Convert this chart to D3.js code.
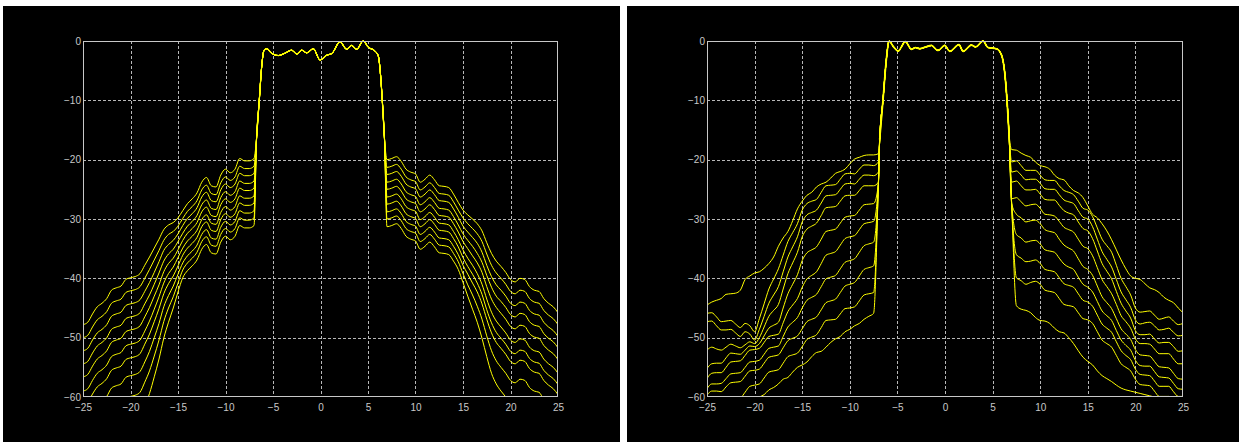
<!DOCTYPE html>
<html><head><meta charset="utf-8">
<script src="https://cdn.jsdelivr.net/npm/d3@7"></script>
<style>html,body{margin:0;padding:0;background:#fff;overflow:hidden}</style>
</head><body>
<svg id="c" width="1239" height="442"></svg>
<script>
// ---------- tick labels ----------
const xTicks = [-25,-20,-15,-10,-5,0,5,10,15,20,25];
const yTicks = [-60,-50,-40,-30,-20,-10,0];

// ---------- shared sideband frequency grids ----------
const sideLX = [-25,-24.5,-24,-23.5,-23,-22.5,-22,-21.5,-21,-20.5,-20,-19.5,-19,-18.5,-18,-17.5,-17,-16.5,-16,-15.5,-15,-14.5,-14,-13.5,-13,-12.5,-12,-11.5,-11,-10.5,-10,-9.5,-9,-8.5,-8,-7.5,-7];
const sideRX = [7,7.5,8,8.5,9,9.5,10,10.5,11,11.5,12,12.5,13,13.5,14,14.5,15,15.5,16,16.5,17,17.5,18,18.5,19,19.5,20,20.5,21,21.5,22,22.5,23,23.5,24,24.5,25];

// ---------- panel 1 (left) ----------
const p1PassX = [-6.72,-6.44,-6.19,-5.95,-5.66,-5.2,-4.44,-3.8,-3.03,-2.5,-1.98,-1.45,-0.75,-0.05,0.65,1.2,2.05,2.76,3.28,3.8,4.5,5.03,5.74,6.08,6.33,6.5,6.72];
const p1PassY = [-16.1,-9.9,-4.3,-1.6,-1.3,-2.0,-2.45,-2.1,-1.55,-2.2,-1.55,-2.0,-1.3,-3.2,-2.4,-2.1,-0.15,-1.4,-0.75,-1.4,0,-1.05,-1.7,-2.5,-5.9,-9.9,-16.0];
const p1Left = [
[-47.8,-47.4,-46.0,-44.8,-44.2,-43.4,-42.0,-41.6,-41.3,-40.2,-39.9,-39.7,-39.2,-37.8,-36.4,-34.9,-33.4,-31.8,-31.0,-30.6,-29.8,-28.6,-27.4,-26.6,-25.6,-23.8,-23.0,-24.4,-24.6,-22.6,-21.6,-22.2,-21.6,-19.8,-20.2,-20.2,-19.8],
[-50.0,-49.6,-48.2,-47.0,-46.4,-45.6,-44.2,-43.8,-43.5,-42.4,-42.1,-41.9,-41.4,-40.0,-38.5,-36.9,-35.3,-33.6,-32.6,-32.1,-31.2,-29.9,-28.7,-27.9,-26.9,-25.1,-24.3,-25.7,-25.9,-23.9,-22.9,-23.5,-22.9,-21.1,-21.5,-21.5,-21.1],
[-52.2,-51.8,-50.4,-49.2,-48.6,-47.8,-46.4,-46.0,-45.7,-44.6,-44.3,-44.1,-43.6,-42.2,-40.7,-39.0,-37.2,-35.3,-34.3,-33.6,-32.5,-31.1,-29.9,-29.1,-28.1,-26.3,-25.5,-26.9,-27.1,-25.1,-24.1,-24.7,-24.1,-22.3,-22.7,-22.7,-22.3],
[-54.4,-54.0,-52.6,-51.4,-50.8,-50.0,-48.6,-48.2,-47.9,-46.8,-46.5,-46.3,-45.8,-44.3,-42.8,-41.0,-39.1,-37.1,-35.9,-35.1,-33.8,-32.4,-31.2,-30.4,-29.4,-27.6,-26.8,-28.2,-28.4,-26.4,-25.4,-26.0,-25.4,-23.6,-24.0,-24.0,-23.6],
[-56.6,-56.2,-54.8,-53.6,-53.0,-52.2,-50.8,-50.4,-50.1,-49.0,-48.7,-48.5,-48.0,-46.5,-44.9,-43.0,-41.1,-38.9,-37.5,-36.6,-35.2,-33.6,-32.4,-31.6,-30.6,-28.8,-28.0,-29.4,-29.6,-27.6,-26.6,-27.2,-26.6,-24.8,-25.2,-25.2,-24.8],
[-59.0,-58.6,-57.2,-56.0,-55.4,-54.6,-53.2,-52.8,-52.5,-51.4,-51.1,-50.9,-50.4,-48.9,-47.2,-45.2,-43.1,-40.8,-39.2,-38.1,-36.5,-34.9,-33.7,-32.9,-31.9,-30.1,-29.3,-30.7,-30.9,-28.9,-27.9,-28.5,-27.9,-26.1,-26.5,-26.5,-26.1],
[-61.3,-60.9,-59.5,-58.3,-57.7,-56.9,-55.5,-55.1,-54.8,-53.7,-53.4,-53.2,-52.7,-51.1,-49.4,-47.3,-45.1,-42.6,-40.9,-39.6,-37.9,-36.1,-34.9,-34.1,-33.1,-31.3,-30.5,-31.9,-32.1,-30.1,-29.1,-29.7,-29.1,-27.3,-27.7,-27.7,-27.3],
[-64.3,-63.9,-62.5,-61.3,-60.7,-59.9,-58.5,-58.1,-57.8,-56.7,-56.4,-56.2,-55.7,-54.1,-52.3,-50.0,-47.6,-44.8,-42.9,-41.3,-39.3,-37.4,-36.2,-35.4,-34.4,-32.6,-31.8,-33.2,-33.4,-31.4,-30.4,-31.0,-30.4,-28.6,-29.0,-29.0,-28.6],
[-67.8,-67.4,-66.0,-64.8,-64.2,-63.4,-62.0,-61.6,-61.3,-60.2,-59.9,-59.7,-59.2,-57.5,-55.6,-53.1,-50.4,-47.3,-45.0,-43.1,-40.8,-38.6,-37.4,-36.6,-35.6,-33.8,-33.0,-34.4,-34.6,-32.6,-31.6,-32.2,-31.6,-29.8,-30.2,-30.2,-29.8],
[-71.8,-71.4,-70.0,-68.8,-68.2,-67.4,-66.0,-65.6,-65.3,-64.2,-63.9,-63.7,-63.2,-61.4,-59.4,-56.6,-53.6,-50.1,-47.4,-45.0,-42.3,-39.9,-38.7,-37.9,-36.9,-35.1,-34.3,-35.7,-35.9,-33.9,-32.9,-33.5,-32.9,-31.1,-31.5,-31.5,-31.1]
];
const p1Right = [
[-20.0,-19.8,-19.5,-20.3,-21.6,-22.1,-22.4,-23.8,-23.3,-22.6,-23.4,-24.4,-24.5,-24.7,-25.8,-27.2,-28.5,-29.3,-30.0,-30.8,-32.0,-34.0,-35.8,-37.1,-38.0,-39.0,-40.2,-40.6,-40.0,-40.2,-41.4,-42.0,-42.2,-43.4,-44.2,-44.8,-45.8],
[-21.3,-21.1,-20.8,-21.6,-22.9,-23.4,-23.7,-25.1,-24.6,-23.9,-24.7,-25.7,-25.8,-26.0,-27.1,-28.5,-29.8,-30.8,-31.6,-32.5,-33.8,-35.9,-37.8,-39.1,-40.0,-41.0,-42.2,-42.6,-42.0,-42.2,-43.4,-44.0,-44.2,-45.4,-46.2,-46.8,-47.8],
[-22.5,-22.3,-22.0,-22.8,-24.1,-24.6,-24.9,-26.3,-25.8,-25.1,-25.9,-26.9,-27.0,-27.2,-28.3,-29.7,-31.2,-32.2,-33.1,-34.1,-35.6,-37.8,-39.7,-41.1,-42.0,-43.0,-44.2,-44.6,-44.0,-44.2,-45.4,-46.0,-46.2,-47.4,-48.2,-48.8,-49.8],
[-23.8,-23.6,-23.3,-24.1,-25.4,-25.9,-26.2,-27.6,-27.1,-26.4,-27.2,-28.2,-28.3,-28.5,-29.6,-31.0,-32.5,-33.6,-34.6,-35.8,-37.3,-39.5,-41.5,-43.0,-43.9,-44.9,-46.1,-46.5,-45.9,-46.1,-47.3,-47.9,-48.1,-49.3,-50.1,-50.7,-51.7],
[-25.0,-24.8,-24.5,-25.3,-26.6,-27.1,-27.4,-28.8,-28.3,-27.6,-28.4,-29.4,-29.5,-29.7,-30.8,-32.2,-33.8,-35.0,-36.2,-37.4,-39.0,-41.4,-43.5,-44.9,-45.9,-46.9,-48.1,-48.5,-47.9,-48.1,-49.3,-49.9,-50.1,-51.3,-52.1,-52.7,-53.7],
[-26.3,-26.1,-25.8,-26.6,-27.9,-28.4,-28.7,-30.1,-29.6,-28.9,-29.7,-30.7,-30.8,-31.0,-32.1,-33.5,-35.2,-36.6,-37.8,-39.2,-41.0,-43.5,-45.7,-47.2,-48.2,-49.2,-50.4,-50.8,-50.2,-50.4,-51.6,-52.2,-52.4,-53.6,-54.4,-55.0,-56.0],
[-27.5,-27.3,-27.0,-27.8,-29.1,-29.6,-29.9,-31.3,-30.8,-30.1,-30.9,-31.9,-32.0,-32.2,-33.3,-34.7,-36.5,-38.0,-39.3,-40.8,-42.7,-45.3,-47.5,-49.1,-50.1,-51.1,-52.3,-52.7,-52.1,-52.3,-53.5,-54.1,-54.3,-55.5,-56.3,-56.9,-57.9],
[-28.8,-28.6,-28.3,-29.1,-30.4,-30.9,-31.2,-32.6,-32.1,-31.4,-32.2,-33.2,-33.3,-33.5,-34.6,-36.0,-37.8,-39.3,-40.8,-42.3,-44.3,-46.9,-49.2,-50.8,-51.8,-52.8,-54.0,-54.4,-53.8,-54.0,-55.2,-55.8,-56.0,-57.2,-58.0,-58.6,-59.6],
[-30.0,-29.8,-29.5,-30.3,-31.6,-32.1,-32.4,-33.8,-33.3,-32.6,-33.4,-34.4,-34.5,-34.7,-35.8,-37.2,-39.2,-41.1,-42.8,-44.7,-46.9,-49.7,-52.2,-53.9,-55.0,-56.0,-57.2,-57.6,-57.0,-57.2,-58.4,-59.0,-59.2,-60.4,-61.2,-61.8,-62.8],
[-31.3,-31.1,-30.8,-31.6,-32.9,-33.4,-33.7,-35.1,-34.6,-33.9,-34.7,-35.7,-35.8,-36.0,-37.1,-38.5,-40.7,-43.0,-45.2,-47.4,-50.1,-53.2,-56.0,-57.8,-59.0,-60.0,-61.2,-61.6,-61.0,-61.2,-62.4,-63.0,-63.2,-64.4,-65.2,-65.8,-66.8]
];

// ---------- panel 2 (right) ----------
const p2PassX = [-6.86,-6.51,-6.16,-5.88,-5.4,-4.94,-4.16,-3.53,-3.1,-2.66,-2.0,-1.43,-0.74,-0.03,0.5,1.47,1.9,2.77,3.22,3.99,4.52,5.4,5.92,6.27,6.51,6.72];
const p2PassY = [-16.6,-9.9,-3.1,0,-1.0,-1.7,-0.1,-1.4,-1.1,-1.3,-1.0,-0.75,-1.6,-0.75,-1.75,-0.6,-1.75,-0.7,-1.0,0,-1.1,-1.3,-2.3,-5.3,-9.9,-15.5];
const p2Left = [
[-44.5,-44.0,-43.7,-43.4,-42.7,-42.6,-42.5,-42.0,-40.2,-39.6,-39.1,-38.9,-38.3,-37.5,-36.4,-34.6,-33.2,-32.1,-30.3,-28.3,-27.0,-26.0,-25.5,-24.6,-24.1,-23.8,-23.1,-22.3,-22.0,-21.6,-20.7,-19.9,-19.6,-19.3,-19.2,-19.2,-19.0],
[-45.9,-45.8,-46.5,-47.3,-47.2,-47.1,-47.7,-48.3,-47.6,-48.0,-49.0,-46.8,-44.3,-41.8,-40.1,-38.4,-36.1,-33.8,-32.3,-30.8,-28.5,-27.4,-27.0,-26.7,-25.5,-24.4,-24.3,-24.2,-23.3,-22.4,-22.3,-22.4,-21.6,-20.9,-20.9,-21.0,-20.4],
[-47.3,-47.2,-48.0,-48.7,-48.7,-48.6,-49.2,-49.8,-49.0,-49.4,-50.4,-48.6,-46.4,-44.2,-42.8,-41.4,-38.9,-36.4,-34.7,-33.0,-30.5,-29.3,-28.9,-28.5,-27.3,-26.1,-26.0,-25.9,-25.0,-24.1,-24.0,-24.1,-23.3,-22.6,-22.6,-22.7,-22.1],
[-52.1,-51.6,-51.9,-52.1,-51.6,-51.1,-51.4,-51.7,-51.2,-50.7,-51.0,-50.0,-48.2,-46.4,-45.4,-44.4,-41.8,-39.2,-37.4,-35.6,-33.0,-31.7,-31.2,-30.7,-29.4,-28.1,-28.0,-27.9,-27.0,-26.1,-26.0,-26.0,-25.2,-24.4,-24.4,-24.4,-23.8],
[-55.2,-54.4,-54.3,-54.3,-53.4,-52.6,-52.7,-52.8,-52.1,-51.4,-51.5,-51.0,-49.7,-48.4,-47.9,-47.4,-45.0,-42.6,-41.0,-39.4,-37.0,-35.7,-35.2,-34.7,-33.4,-32.1,-31.9,-31.7,-30.7,-29.7,-29.5,-29.4,-28.5,-27.6,-27.5,-27.4,-24.2],
[-56.9,-56.0,-55.9,-55.9,-55.0,-54.1,-54.0,-53.9,-53.0,-52.1,-52.0,-51.8,-50.8,-49.8,-49.6,-49.4,-47.5,-45.6,-44.5,-43.4,-41.5,-40.1,-39.5,-38.9,-37.5,-36.1,-35.8,-35.5,-34.4,-33.3,-33.0,-32.8,-31.8,-30.8,-30.6,-30.4,-24.2],
[-58.6,-57.8,-57.8,-57.7,-56.9,-56.1,-56.0,-55.9,-55.0,-54.1,-54.0,-53.8,-52.8,-51.8,-51.6,-51.4,-49.8,-48.2,-47.4,-46.6,-45.0,-43.7,-43.2,-42.7,-41.4,-40.1,-39.8,-39.5,-38.4,-37.3,-37.0,-36.7,-35.6,-34.5,-34.2,-33.9,-24.2],
[-59.7,-59.0,-59.0,-59.1,-58.3,-57.6,-57.5,-57.4,-56.5,-55.6,-55.5,-55.3,-54.3,-53.3,-53.1,-52.9,-51.7,-50.5,-50.1,-49.7,-48.5,-47.3,-46.9,-46.5,-45.3,-44.1,-43.8,-43.5,-42.4,-41.3,-41.0,-40.7,-39.6,-38.5,-38.2,-37.9,-24.2],
[-64.0,-63.0,-62.8,-62.6,-61.6,-60.6,-60.4,-60.2,-59.2,-58.2,-58.0,-57.8,-56.8,-55.8,-55.6,-55.4,-54.3,-53.2,-52.9,-52.6,-51.5,-50.3,-49.9,-49.5,-48.3,-47.1,-47.0,-46.9,-46.0,-45.1,-45.0,-44.8,-43.8,-42.8,-42.6,-42.4,-24.2],
[-66.4,-65.8,-65.2,-64.6,-64.0,-63.5,-63.0,-62.4,-61.8,-61.2,-60.6,-60.0,-59.6,-58.8,-58.4,-57.8,-57.0,-56.7,-55.8,-55.0,-54.6,-54.1,-53.2,-52.5,-52.3,-51.6,-50.8,-50.2,-49.8,-49.0,-48.6,-48.0,-47.6,-46.9,-46.4,-45.9,-24.2]
];
const p2Right = [
[-18.3,-18.4,-18.9,-19.3,-19.6,-20.4,-21.0,-21.2,-21.6,-22.6,-23.2,-23.4,-24.4,-25.2,-25.6,-26.4,-27.8,-29.2,-29.8,-30.8,-32.0,-33.5,-35.2,-36.9,-38.4,-39.6,-40.0,-40.2,-40.9,-41.6,-41.9,-42.4,-43.2,-43.7,-44.1,-45.0,-45.8],
[-20.4,-20.2,-21.0,-21.8,-21.8,-21.8,-22.6,-23.4,-23.5,-23.5,-24.4,-25.2,-25.5,-25.9,-27.0,-28.2,-28.5,-29.6,-31.5,-33.4,-34.5,-35.6,-37.8,-40.0,-41.4,-42.8,-45.0,-45.7,-45.6,-45.5,-46.2,-46.9,-46.7,-46.5,-47.2,-47.8,-47.6],
[-22.1,-21.9,-22.6,-23.4,-23.3,-23.3,-24.0,-24.9,-25.0,-25.0,-25.9,-26.8,-27.1,-27.4,-28.6,-29.7,-30.0,-31.3,-33.4,-35.5,-36.8,-38.1,-40.2,-42.3,-43.6,-44.9,-47.0,-47.7,-47.5,-47.4,-48.0,-48.7,-48.6,-48.4,-49.1,-49.7,-49.6],
[-23.8,-23.6,-24.4,-25.1,-25.1,-25.0,-25.8,-26.7,-26.8,-26.8,-27.7,-28.6,-29.0,-29.3,-30.5,-31.6,-32.0,-33.3,-35.4,-37.5,-38.8,-40.1,-42.2,-44.2,-45.5,-46.7,-48.8,-49.5,-49.5,-49.4,-50.2,-50.9,-50.8,-50.8,-51.5,-52.3,-52.2],
[-26.6,-26.4,-27.1,-27.8,-27.6,-27.5,-28.2,-29.2,-29.3,-29.5,-30.4,-31.4,-31.8,-32.2,-33.4,-34.6,-35.0,-36.2,-38.2,-40.2,-41.4,-42.6,-44.4,-46.3,-47.3,-48.4,-50.2,-51.0,-51.0,-51.1,-51.9,-52.7,-52.7,-52.7,-53.6,-54.4,-54.4],
[-27.4,-29.2,-29.8,-30.5,-30.3,-30.2,-30.8,-31.8,-32.1,-32.3,-33.4,-34.4,-34.9,-35.4,-36.7,-38.0,-38.5,-39.5,-41.3,-43.1,-44.1,-45.1,-46.8,-48.5,-49.4,-50.3,-52.0,-52.9,-53.0,-53.1,-54.0,-54.9,-55.0,-55.1,-56.0,-56.9,-57.0],
[-27.4,-32.6,-33.2,-33.9,-33.7,-33.6,-34.2,-35.2,-35.4,-35.6,-36.6,-37.6,-38.1,-38.5,-39.8,-41.0,-41.5,-42.3,-43.9,-45.5,-46.3,-47.1,-48.8,-50.4,-51.3,-52.1,-53.8,-54.7,-54.8,-54.8,-55.7,-56.6,-56.7,-56.8,-57.7,-58.6,-58.7],
[-27.4,-36.0,-36.6,-37.2,-37.1,-36.9,-37.5,-38.5,-38.7,-38.9,-39.9,-40.9,-41.2,-41.5,-42.6,-43.7,-44.0,-44.7,-46.2,-47.7,-48.4,-49.1,-50.7,-52.2,-53.0,-53.7,-55.3,-56.2,-56.3,-56.4,-57.3,-58.2,-58.2,-58.2,-59.1,-59.9,-59.9],
[-27.4,-39.9,-40.4,-41.0,-40.7,-40.5,-41.0,-42.0,-42.2,-42.4,-43.4,-44.4,-44.6,-44.8,-45.8,-46.8,-47.0,-47.6,-49.0,-50.4,-51.0,-51.6,-53.0,-54.4,-55.0,-55.6,-57.0,-57.9,-58.0,-58.1,-59.0,-59.9,-59.9,-59.9,-60.7,-61.5,-61.5],
[-27.4,-44.6,-45.2,-45.4,-45.8,-46.6,-47.1,-47.2,-47.6,-48.4,-49.0,-49.2,-50.0,-51.0,-52.2,-53.3,-54.0,-54.6,-55.6,-56.4,-56.9,-57.4,-58.0,-58.5,-58.8,-59.0,-59.2,-59.4,-59.6,-59.8,-60.0,-60.2,-60.5,-60.8,-61.0,-61.3,-61.6]
];

// ---------- drawing ----------
const svg = d3.select('#c');
svg.append('rect').attr('width',1239).attr('height',442).attr('fill','#ffffff');

function drawPanel(id, bg, plot, left, px, py, right, passW) {
  svg.append('rect').attr('x',bg[0]).attr('y',bg[1]).attr('width',bg[2]).attr('height',bg[3]).attr('fill','#000');
  const xs = d3.scaleLinear().domain([-25,25]).range([plot[0],plot[1]]);
  const ys = d3.scaleLinear().domain([-60,0]).range([plot[3],plot[2]]);
  const g = svg.append('g');
  const w = plot[1]-plot[0], h = plot[3]-plot[2];
  const gridC = '#b8b8b8';
  g.append('g').selectAll('line').data(xTicks.slice(1,-1)).join('line')
    .attr('x1',d=>Math.round(xs(d))+0.5).attr('x2',d=>Math.round(xs(d))+0.5)
    .attr('y1',plot[2]).attr('y2',plot[3])
    .attr('stroke',gridC).attr('stroke-width',1).attr('stroke-dasharray','3,2');
  g.append('g').selectAll('line').data(yTicks.slice(1,-1)).join('line')
    .attr('y1',d=>Math.round(ys(d))+0.5).attr('y2',d=>Math.round(ys(d))+0.5)
    .attr('x1',plot[0]).attr('x2',plot[1])
    .attr('stroke',gridC).attr('stroke-width',1).attr('stroke-dasharray','3,2');
  svg.append('clipPath').attr('id','clip'+id).append('rect')
    .attr('x',plot[0]).attr('y',plot[2]-1).attr('width',w).attr('height',h+1);
  const line = d3.line().x(d=>xs(d[0])).y(d=>ys(d[1])).curve(d3.curveMonotoneX);
  const curves = left.map((L,k)=>{
    const pts = [];
    sideLX.forEach((x,i)=>pts.push([x,L[i]]));
    px.forEach((x,i)=>pts.push([x,py[i]]));
    sideRX.forEach((x,i)=>pts.push([x,right[k][i]]));
    return pts;
  });
  const cg = g.append('g').attr('clip-path','url(#clip'+id+')');
  cg.selectAll('path.c').data(curves).join('path').attr('class','c')
    .attr('d',line).attr('fill','none').attr('stroke','#ffff00').attr('stroke-width',1);
  cg.append('path').datum(px.map((x,i)=>[x,py[i]]))
    .attr('d',line).attr('fill','none').attr('stroke','#ffff00').attr('stroke-width',passW);
  const ax = g.append('g').attr('transform',`translate(0,${plot[3]})`)
    .call(d3.axisBottom(xs).tickValues(xTicks).tickSize(0).tickPadding(7));
  const ay = g.append('g').attr('transform',`translate(${plot[0]},0)`)
    .call(d3.axisLeft(ys).tickValues(yTicks).tickSize(0).tickPadding(2));
  [ax,ay].forEach(a=>{
    a.select('.domain').remove();
    a.selectAll('text').attr('fill','#c8c8c8').style('font-family','Liberation Sans, Arial, sans-serif').style('font-size','10px');
  });
  g.append('rect').attr('x',plot[0]+0.5).attr('y',plot[2]+0.5).attr('width',w-1).attr('height',h-1)
    .attr('fill','none').attr('stroke','#c8c8c8').attr('stroke-width',1);
}

drawPanel(1,[3,6,617,436],[83,558,41,397],p1Left,p1PassX,p1PassY,p1Right,1.2);
drawPanel(2,[627,6,612,436],[707,1183,41,397],p2Left,p2PassX,p2PassY,p2Right,1.7);
</script>
</body></html>
